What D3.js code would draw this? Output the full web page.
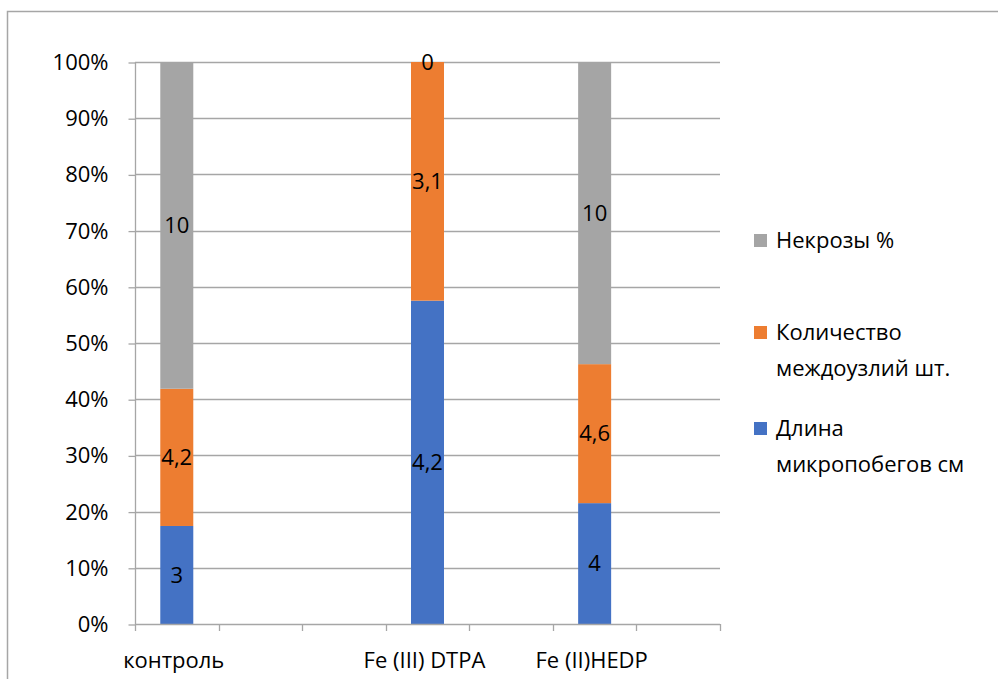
<!DOCTYPE html>
<html>
<head>
<meta charset="utf-8">
<script src="https://cdn.jsdelivr.net/npm/d3@7"></script>
<style>
  html, body { margin: 0; padding: 0; background: #fff; }
  svg text { font-family: "Open Sans", "Noto Sans", sans-serif; fill: #000; }
</style>
</head>
<body>
<svg id="chart" width="998" height="679"></svg>
<script>
// Category slots along the x axis (blank slots keep their place)
const categories = ["контроль", "", "", "Fe (III) DTPA", "", "Fe (II)HEDP", ""];
// Series values per category (null = no bar)
const lengthCm   = [3,   null, null, 4.2, null, 4,   null];
const nodesCount = [4.2, null, null, 3.1, null, 4.6, null];
const necrosis   = [10,  null, null, 0,   null, 10,  null];
// Labels as written on the bars
const lengthLbl   = ["3",   "", "", "4,2", "", "4",   ""];
const nodesLbl    = ["4,2", "", "", "3,1", "", "4,6", ""];
const necrosisLbl = ["10",  "", "", "0",   "", "10",  ""];
const seriesNames = ["Длина микропобегов см", "Количество междоузлий шт.", "Некрозы %"];
const seriesColors = ["#4472c4", "#ed7d31", "#a5a5a5"];
const yTicks = [0, 0.1, 0.2, 0.3, 0.4, 0.5, 0.6, 0.7, 0.8, 0.9, 1];

const FS = 22;
const svg = d3.select("#chart");

// outer frame
svg.append("rect").attr("x", 7.5).attr("y", 11.5).attr("width", 1100).attr("height", 800)
  .attr("fill", "none").attr("stroke", "#a6a6a6").attr("stroke-width", 1.5);

const plotLeft = 135, plotRight = 720, plotTop = 62, plotBottom = 624;

const x = d3.scaleBand().domain(d3.range(categories.length)).range([plotLeft, plotRight]).paddingInner(0).paddingOuter(0);
const y = d3.scaleLinear().domain([0, 1]).range([plotBottom, plotTop]);

// horizontal gridlines
svg.append("g").selectAll("line").data(yTicks.filter(t => t > 0)).join("line")
  .attr("x1", plotLeft).attr("x2", plotRight)
  .attr("y1", d => Math.round(y(d)) + 0.5).attr("y2", d => Math.round(y(d)) + 0.5)
  .attr("stroke", "#a6a6a6").attr("stroke-width", 1.3);

// y axis
const yAxis = d3.axisLeft(y).tickValues(yTicks).tickFormat(d3.format(".0%")).tickSize(7).tickPadding(12);
const gy = svg.append("g").attr("transform", `translate(${plotLeft + 0.5},0.5)`).call(yAxis);
gy.select(".domain").remove();
gy.selectAll(".tick line").attr("stroke", "#a6a6a6").attr("stroke-width", 1.3);
gy.selectAll(".tick text").attr("font-size", FS).attr("x", -27).style("font-family", "'Open Sans', sans-serif");
svg.append("line").attr("x1", plotLeft + 0.5).attr("x2", plotLeft + 0.5).attr("y1", plotTop).attr("y2", plotBottom)
  .attr("stroke", "#a6a6a6").attr("stroke-width", 1.3);

// stacked percentage data
const rows = categories.map((c, i) => ({
  i, a: lengthCm[i], b: nodesCount[i], c: necrosis[i]
})).filter(r => r.a !== null);
const stack = d3.stack().keys(["a", "b", "c"]).offset(d3.stackOffsetExpand);
const layers = stack(rows);
const labelSets = [lengthLbl, nodesLbl, necrosisLbl];

const barW = 33;
layers.forEach((layer, k) => {
  svg.append("g").selectAll("rect").data(layer).join("rect")
    .attr("x", d => x(d.data.i) + x.bandwidth() / 2 - barW / 2)
    .attr("width", barW)
    .attr("y", d => y(d[1]))
    .attr("height", d => y(d[0]) - y(d[1]))
    .attr("fill", seriesColors[k]);
});
layers.forEach((layer, k) => {
  svg.append("g").selectAll("text").data(layer).join("text")
    .attr("x", d => x(d.data.i) + x.bandwidth() / 2)
    .attr("y", d => y((d[0] + d[1]) / 2))
    .attr("dy", "0.35em")
    .attr("text-anchor", "middle")
    .attr("font-size", FS)
    .text(d => labelSets[k][d.data.i]);
});

// x axis line and ticks
svg.append("line").attr("x1", plotLeft).attr("x2", plotRight).attr("y1", plotBottom + 0.5).attr("y2", plotBottom + 0.5)
  .attr("stroke", "#a6a6a6").attr("stroke-width", 1.3);
const xTickPos = d3.range(categories.length + 1).map(i => plotLeft + i * x.bandwidth());
svg.append("g").selectAll("line").data(xTickPos).join("line")
  .attr("x1", d => Math.round(d) + 0.5).attr("x2", d => Math.round(d) + 0.5)
  .attr("y1", plotBottom).attr("y2", plotBottom + 7)
  .attr("stroke", "#a6a6a6").attr("stroke-width", 1.3);
svg.append("g").selectAll("text").data(categories.map((c, i) => ({ c, i })).filter(d => d.c)).join("text")
  .attr("x", d => x(d.i) + x.bandwidth() / 2 - 3)
  .attr("y", 668)
  .attr("text-anchor", "middle")
  .attr("font-size", FS)
  .text(d => d.c);

// legend (top to bottom: necrosis, nodes, length)
const legendItems = [
  { color: seriesColors[2], lines: ["Некрозы %"], y: 240 },
  { color: seriesColors[1], lines: ["Количество", "междоузлий шт."], y: 332 },
  { color: seriesColors[0], lines: ["Длина", "микропобегов см"], y: 428 }
];
const lg = svg.append("g");
legendItems.forEach(it => {
  lg.append("rect").attr("x", 754).attr("y", it.y - 6).attr("width", 13).attr("height", 13).attr("fill", it.color);
  it.lines.forEach((ln, j) => {
    lg.append("text").attr("x", 776).attr("y", it.y + j * 36).attr("dy", "0.35em")
      .attr("font-size", FS).text(ln);
  });
});
</script>
</body>
</html>
